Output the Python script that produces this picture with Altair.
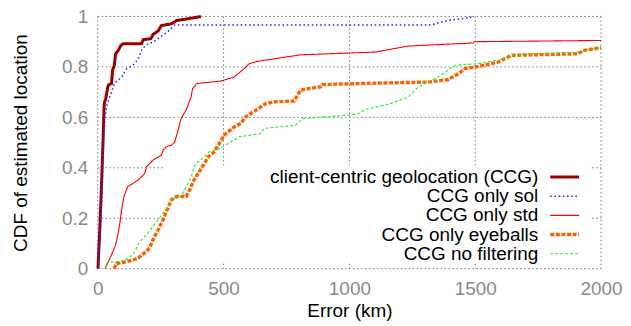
import altair as alt
import pandas as pd

series = ["client-centric geolocation (CCG)", "CCG only sol", "CCG only std",
          "CCG only eyeballs", "CCG no filtering"]
colors = ["#990000", "#2a2aff", "#ff0000", "#ff6000", "#22ee22"]
dashes = [[1, 0], [1.6, 2.6], [1, 0], [4, 1.6], [3, 2]]
widths = [3, 1.5, 1.1, 3.4, 1.1]

ccg_x = [1, 8, 14, 20, 24, 26, 32, 40, 44, 55, 59, 66, 71, 82, 92, 101, 174, 181, 211, 220,
         240, 253, 293, 313, 359, 410]
ccg_y = [0, 0.15, 0.3, 0.47, 0.6, 0.655, 0.675, 0.72, 0.73, 0.734, 0.787, 0.806, 0.852, 0.866,
         0.885, 0.892, 0.892, 0.908, 0.912, 0.929, 0.942, 0.964, 0.971, 0.984, 0.991, 1.0]

sol_x = [3, 10, 17, 22, 29, 38, 53, 66, 95, 115, 148, 161, 177, 200, 220, 247, 277, 306,
         1326, 1353, 1393, 1446, 1496]
sol_y = [0, 0.15, 0.3, 0.47, 0.602, 0.655, 0.694, 0.734, 0.76, 0.793, 0.813, 0.833, 0.872,
         0.892, 0.898, 0.918, 0.938, 0.966, 0.966, 0.975, 0.985, 0.991, 1.0]

std_x = [29, 49, 69, 79, 88, 95, 104, 119, 161, 187, 194, 220, 253, 260, 272, 293, 305, 318,
         331, 351, 371, 377, 394, 489, 542, 575, 602, 634, 806, 1103, 1235, 1492, 1496, 2000]
std_y = [0, 0.042, 0.088, 0.128, 0.18, 0.233, 0.286, 0.325, 0.352, 0.378, 0.404, 0.431, 0.45,
         0.47, 0.483, 0.49, 0.5, 0.543, 0.595, 0.628, 0.681, 0.714, 0.734, 0.744, 0.76, 0.787,
         0.813, 0.822, 0.848, 0.859, 0.883, 0.895, 0.9, 0.905]

eye_x = [65, 75, 121, 161, 194, 206, 220, 240, 260, 273, 293, 313, 352, 365, 379, 399, 420,
         440, 462, 483, 503, 542, 569, 588, 628, 668, 707, 780, 806, 839, 885, 892, 1116, 1314,
         1393, 1433, 1459, 1512, 1591, 1643, 1907, 1934, 2000]
eye_y = [0, 0.02, 0.029, 0.042, 0.069, 0.082, 0.115, 0.154, 0.194, 0.227, 0.273, 0.286, 0.286,
         0.312, 0.345, 0.378, 0.411, 0.444, 0.462, 0.497, 0.53, 0.562, 0.576, 0.602, 0.628,
         0.655, 0.662, 0.665, 0.708, 0.714, 0.721, 0.73, 0.736, 0.74, 0.75, 0.773, 0.793,
         0.802, 0.819, 0.846, 0.852, 0.866, 0.876]

nof_x = [29, 36, 108, 141, 167, 194, 214, 240, 280, 300, 332, 372, 385, 431, 443, 471, 496,
         562, 648, 661, 786, 813, 997, 1037, 1063, 1155, 1182, 1235, 1274, 1353, 1419, 1512,
         1604, 1643, 1907, 2000]
nof_y = [0, 0.022, 0.033, 0.055, 0.108, 0.134, 0.161, 0.194, 0.246, 0.279, 0.286, 0.365,
         0.411, 0.45, 0.464, 0.47, 0.483, 0.523, 0.536, 0.556, 0.569, 0.595, 0.609, 0.615,
         0.631, 0.652, 0.662, 0.681, 0.721, 0.76, 0.806, 0.813, 0.829, 0.848, 0.859, 0.879]

x_ticks = [0, 500, 1000, 1500, 2000]
y_ticks = [0, 0.2, 0.4, 0.6, 0.8, 1]

# extent of the key's white box, in data units
key_box_x = [265, 1955]
key_box_y = [0.024, 0.411]

FONT = "Liberation Sans"
GRID = "#7a7a7a"

rows = []
for k, (xs, ys) in enumerate([(ccg_x, ccg_y), (sol_x, sol_y), (std_x, std_y),
                              (eye_x, eye_y), (nof_x, nof_y)]):
    for i, (a, b) in enumerate(zip(xs, ys)):
        rows.append({"series": series[k], "k": k, "i": i, "x": a, "y": b})
df = pd.DataFrame(rows)

color_scale = alt.Scale(type="ordinal", domain=series, range=colors)
dash_scale = alt.Scale(type="ordinal", domain=series, range=dashes)
width_scale = alt.Scale(type="ordinal", domain=series, range=widths)
x_scale = alt.Scale(domain=[0, 2000], nice=False)
y_scale = alt.Scale(domain=[0, 1], nice=False)

x_axis = alt.Axis(values=x_ticks, format="d", title="Error (km)", grid=False,
                  domain=False, ticks=False, labelFontSize=19, labelFlush=False,
                  labelColor="#8a8a8a", labelPadding=11, labelFont=FONT,
                  titleFont=FONT, titleFontSize=19, titleFontWeight="normal",
                  titleColor="black", titlePadding=3)
y_axis = alt.Axis(values=y_ticks, format="~g", title="CDF of estimated location",
                  grid=False, domain=False, ticks=False, labelFontSize=19,
                  labelFlush=False, labelColor="#8a8a8a", labelPadding=10, labelFont=FONT,
                  titleFont=FONT, titleFontSize=19, titleFontWeight="normal",
                  titleColor="black", titlePadding=31)

# dotted grid (and frame) at every tick
grid_x = alt.Chart(pd.DataFrame({"v": x_ticks})).mark_rule().encode(
    x=alt.X("v:Q", scale=x_scale, axis=x_axis),
    y=alt.value(0), y2=alt.value(253),
    color=alt.value(GRID), strokeWidth=alt.value(1),
    strokeDash=alt.value([1.5, 2.5]),
)
grid_y = alt.Chart(pd.DataFrame({"v": y_ticks})).mark_rule().encode(
    y=alt.Y("v:Q", scale=y_scale, axis=y_axis),
    x=alt.value(0), x2=alt.value(505),
    color=alt.value(GRID), strokeWidth=alt.value(1),
    strokeDash=alt.value([1.5, 2.5]),
)

# white key box behind the curves
box = alt.Chart(pd.DataFrame({"x0": [key_box_x[0]], "x1": [key_box_x[1]],
                              "y0": [key_box_y[0]], "y1": [key_box_y[1]]})).mark_rect(
    color="white"
).encode(
    x=alt.X("x0:Q", scale=x_scale, axis=x_axis), x2="x1:Q",
    y=alt.Y("y0:Q", scale=y_scale, axis=y_axis), y2="y1:Q",
)

lines = alt.Chart(df).mark_line(strokeCap="butt").encode(
    x=alt.X("x:Q", scale=x_scale, axis=x_axis),
    y=alt.Y("y:Q", scale=y_scale, axis=y_axis),
    color=alt.Color("series:N", scale=color_scale, legend=None),
    strokeDash=alt.StrokeDash("series:N", scale=dash_scale, legend=None),
    strokeWidth=alt.StrokeWidth("series:N", scale=width_scale, legend=None),
    detail="k:O",
    order="i:Q",
)

plot = alt.layer(grid_x, grid_y, box, lines)

legend_df = pd.DataFrame({"series": series})
key_y = alt.Y("series:N", scale=alt.Scale(type="point", domain=series, range=[161, 238],
                                          padding=0), axis=None)
key_text = alt.Chart(legend_df).mark_text(
    align="right", baseline="middle", fontSize=19, font=FONT, color="black"
).encode(x=alt.value(442), y=key_y, text="series:N")
key_line = alt.Chart(legend_df).mark_rule(strokeCap="butt").encode(
    x=alt.value(454), x2=alt.value(483), y=key_y,
    color=alt.Color("series:N", scale=color_scale, legend=None),
    strokeDash=alt.StrokeDash("series:N", scale=dash_scale, legend=None),
    strokeWidth=alt.StrokeWidth("series:N", scale=width_scale, legend=None),
)
key = alt.layer(key_text, key_line)

chart = alt.layer(plot, key).resolve_scale(
    y="independent"
).properties(
    width=505, height=253,
    autosize=alt.AutoSizeParams(type="none"),
    padding={"left": 90, "top": 8, "right": 22, "bottom": 57},
).configure_view(stroke=None)

chart.save("out.html", embed_options={"renderer": "svg", "actions": False})
